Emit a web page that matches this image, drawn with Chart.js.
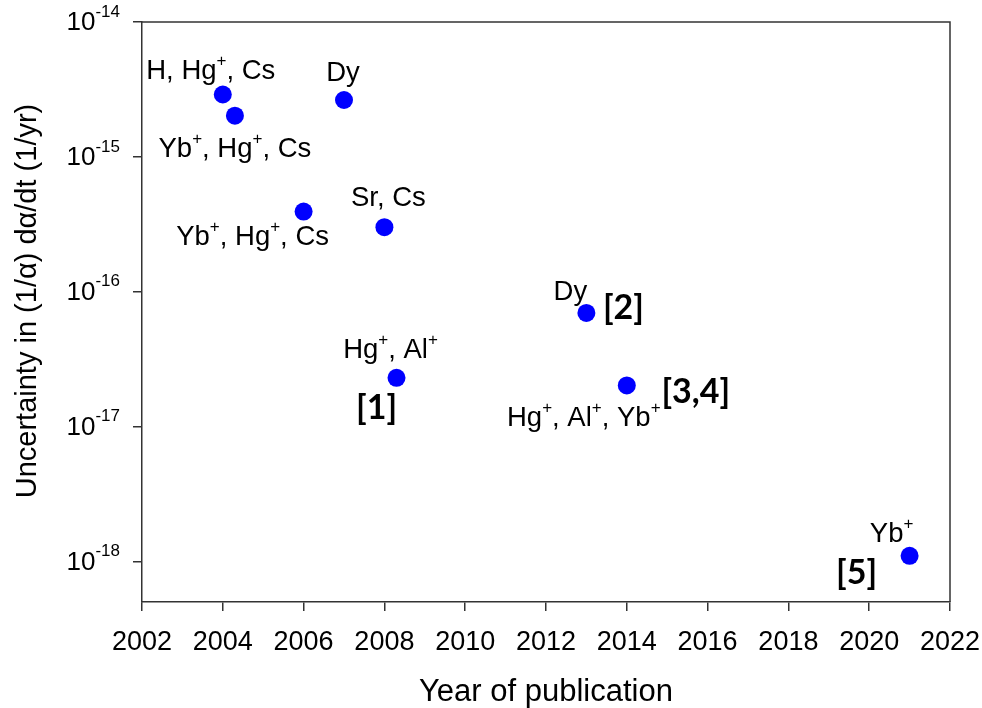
<!DOCTYPE html>
<html>
<head>
<meta charset="utf-8">
<script src="https://cdn.jsdelivr.net/npm/chart.js@4"></script>
<style>
  html, body { margin: 0; padding: 0; background: #fff; }
  #wrap { width: 982px; height: 708px; }
</style>
</head>
<body>
<div id="wrap"><canvas id="chart"></canvas></div>
<script>
// data
const years = [2004, 2004.3, 2007, 2006, 2008, 2013, 2008.3, 2014, 2021];
const uncertainty = [2.9e-15, 2.02e-15, 2.64e-15, 3.93e-16, 3.01e-16, 6.96e-17, 2.3e-17, 2.02e-17, 1.1e-18];
const decadeTicks = [1e-18, 1e-17, 1e-16, 1e-15, 1e-14];

// point labels, {+} marks a superscript
const species = ["H, Hg{+}, Cs", "Yb{+}, Hg{+}, Cs", "Dy", "Yb{+}, Hg{+}, Cs", "Sr, Cs",
  "Dy", "Hg{+}, Al{+}", "Hg{+}, Al{+}, Yb{+}", "Yb{+}"];
const refs = [null, null, null, null, null, "[2]", "[1]", "[3,4]", "[5]"];

// label placement relative to the point (px)
const speciesOffset = [[-12, -23], [0, 34], [-1, -27], [-51, 26], [4, -29],
  [-16, -21], [-6, -27], [-43, 33], [-18, -21]];
const refOffset = [null, null, null, null, null, [37, -5], [-20, 30], [69, 7], [-53, 17]];

const FONT = "'Liberation Sans', Arial, sans-serif";
const AXIS_COLOR = "#333";

// draw text with {..} superscripts, centred on x,y
function drawRich(ctx, text, x, y, size) {
  const parts = text.split(/(\{[^}]*\})/).filter(s => s.length);
  const supSize = Math.round(size * 0.62);
  const segs = parts.map(p => {
    const sup = p[0] === "{";
    const t = sup ? p.slice(1, -1) : p;
    ctx.font = (sup ? supSize : size) + "px " + FONT;
    return { t, sup, w: ctx.measureText(t).width };
  });
  const total = segs.reduce((a, s) => a + s.w, 0);
  let cx = x - total / 2;
  ctx.textAlign = "left";
  ctx.textBaseline = "middle";
  segs.forEach(s => {
    ctx.font = (s.sup ? supSize : size) + "px " + FONT;
    ctx.fillText(s.t, cx, s.sup ? y - size * 0.38 : y);
    cx += s.w;
  });
}

const decorPlugin = {
  id: "decor",
  afterDraw(chart) {
    const { ctx, chartArea: a, scales } = chart;
    ctx.save();
    // top and right frame
    ctx.strokeStyle = AXIS_COLOR;
    ctx.lineWidth = 1.5;
    ctx.beginPath();
    ctx.moveTo(a.left, a.top);
    ctx.lineTo(a.right, a.top);
    ctx.lineTo(a.right, a.bottom);
    ctx.stroke();

    // y tick labels as powers of ten
    ctx.fillStyle = "#000";
    decadeTicks.forEach(v => {
      const y = scales.y.getPixelForValue(v);
      const exp = String(Math.round(Math.log10(v)));
      ctx.textBaseline = "middle";
      ctx.textAlign = "right";
      ctx.font = "17px " + FONT;
      const ew = ctx.measureText(exp).width;
      ctx.fillText(exp, 120, y - 10);
      ctx.font = "26px " + FONT;
      ctx.fillText("10", 120 - ew, y + 1);
    });

    // y axis title
    ctx.save();
    ctx.translate(28, 301);
    ctx.rotate(-Math.PI / 2);
    ctx.textAlign = "center";
    ctx.textBaseline = "middle";
    ctx.font = "29px " + FONT;
    ctx.fillText("Uncertainty in (1/\u03b1) d\u03b1/dt (1/yr)", 0, 0);
    ctx.restore();

    // point labels
    const meta = chart.getDatasetMeta(0);
    meta.data.forEach((pt, i) => {
      const so = speciesOffset[i];
      drawRich(ctx, species[i], pt.x + so[0], pt.y + so[1], 27.5);
      if (refs[i]) {
        const ro = refOffset[i];
        ctx.font = "bold 34px Lato, 'Open Sans', sans-serif";
        ctx.textAlign = "center";
        ctx.textBaseline = "middle";
        ctx.fillText(refs[i], pt.x + ro[0], pt.y + ro[1]);
      }
    });
    ctx.restore();
  }
};

new Chart(document.getElementById("chart"), {
  type: "scatter",
  data: {
    datasets: [{
      data: years.map((x, i) => ({ x, y: uncertainty[i] })),
      backgroundColor: "#0000ff",
      borderWidth: 0,
      pointRadius: 9,
      pointHoverRadius: 9
    }]
  },
  options: {
    responsive: true,
    maintainAspectRatio: false,
    animation: false,
    layout: { padding: { top: 22, right: 32, bottom: 0, left: 0 } },
    plugins: { legend: { display: false }, tooltip: { enabled: false } },
    scales: {
      x: {
        type: "linear",
        min: 2002,
        max: 2022,
        ticks: {
          stepSize: 2,
          color: "#000",
          padding: 15,
          maxRotation: 0,
          font: { family: FONT, size: 27 },
          callback: v => String(v)
        },
        grid: { drawOnChartArea: false, drawTicks: true, tickLength: 9, color: AXIS_COLOR, lineWidth: 1.5 },
        border: { display: true, color: AXIS_COLOR, width: 1.5 },
        title: {
          display: true,
          text: "Year of publication",
          color: "#000",
          font: { family: FONT, size: 31, lineHeight: 1 },
          padding: { top: 0, bottom: 0 }
        },
        afterFit: s => { s.height = 106; s.paddingLeft = 0; s.paddingRight = 0; }
      },
      y: {
        type: "logarithmic",
        min: 5e-19,
        max: 1e-14,
        afterBuildTicks: s => { s.ticks = decadeTicks.map(value => ({ value, major: true })); },
        ticks: { display: false },
        grid: { drawOnChartArea: false, drawTicks: true, tickLength: 9, color: AXIS_COLOR, lineWidth: 1.5 },
        border: { display: true, color: AXIS_COLOR, width: 1.5 },
        afterFit: s => { s.width = 142; }
      }
    }
  },
  plugins: [decorPlugin]
});
</script>
</body>
</html>
